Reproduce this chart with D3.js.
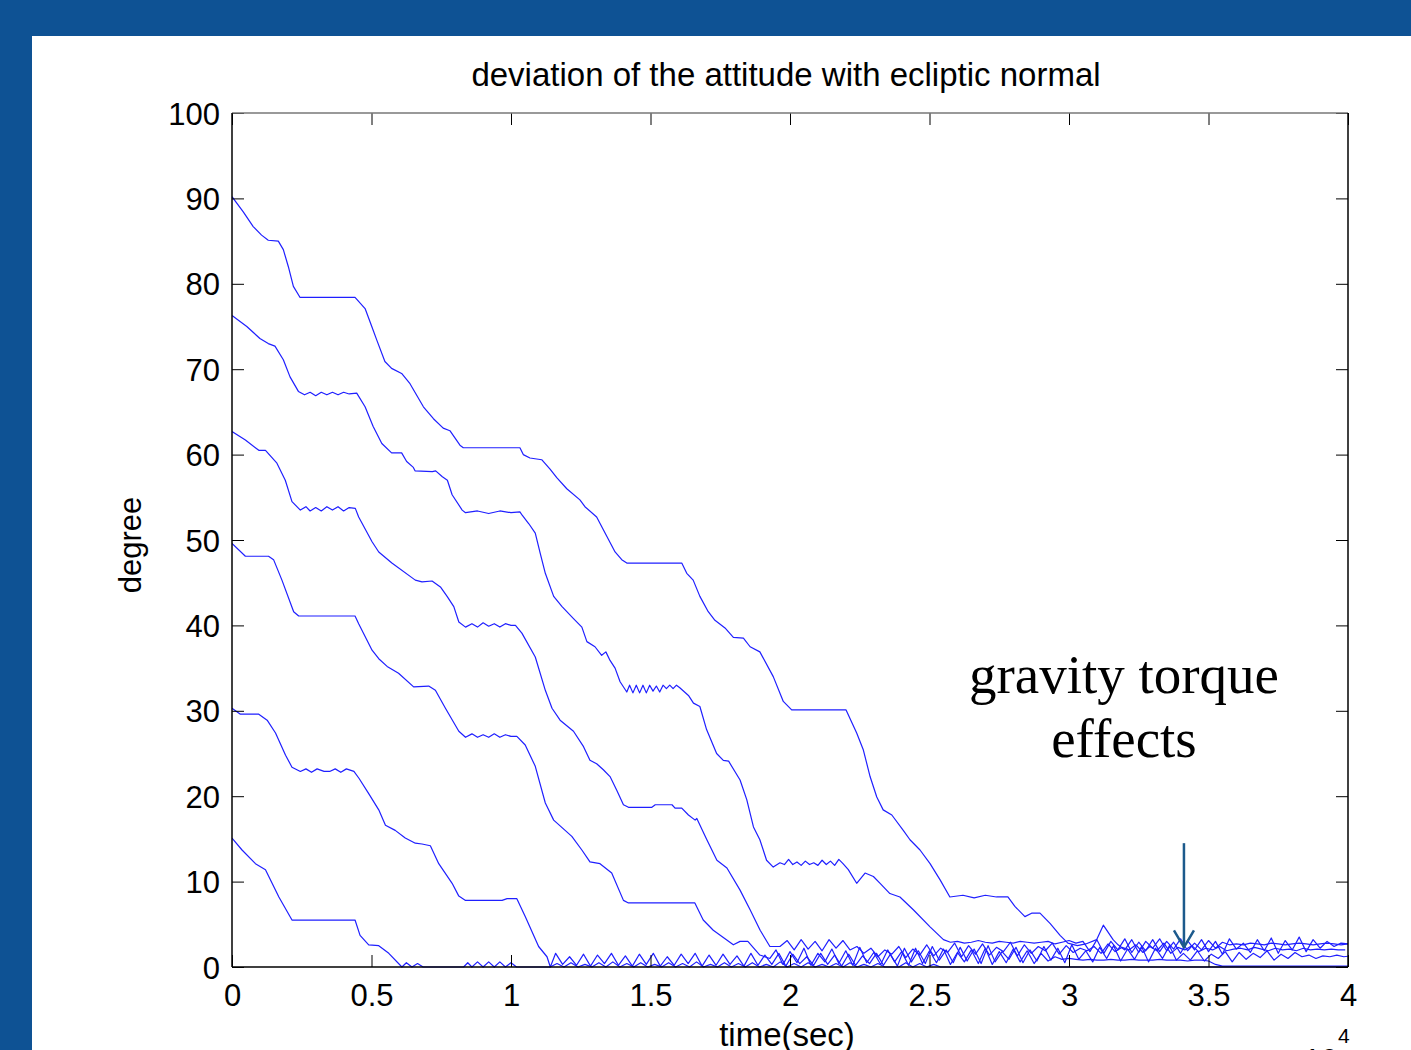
<!DOCTYPE html>
<html>
<head>
<meta charset="utf-8">
<script src="https://cdn.jsdelivr.net/npm/d3@7"></script>
<style>
  body { margin: 0; padding: 0; background: #0e5294; }
  svg { display: block; }
</style>
</head>
<body>
<div id="chart"></div>
<script>
// Axis ticks and labels
var xTicks = [0, 0.5, 1, 1.5, 2, 2.5, 3, 3.5, 4];
var xTickLabels = ["0", "0.5", "1", "1.5", "2", "2.5", "3", "3.5", "4"];
var yTicks = [0, 10, 20, 30, 40, 50, 60, 70, 80, 90, 100];

// Each run: [time (x10^4 sec), deviation (deg)]
var lineA = [[0,90.2],[0.041,88.4],[0.076,86.7],[0.106,85.7],[0.130,85.1],[0.166,85],[0.184,84],[0.202,82],[0.220,79.7],[0.244,78.4],[0.441,78.4],[0.477,77.1],[0.501,75],[0.519,73.4],[0.548,70.9],[0.572,70.1],[0.608,69.5],[0.638,68.3],[0.686,65.6],[0.722,64.2],[0.757,63.1],[0.781,62.8],[0.817,61.1],[0.829,60.8],[1.032,60.8],[1.044,60],[1.068,59.6],[1.110,59.4],[1.140,58.3],[1.164,57.3],[1.200,56],[1.247,54.7],[1.265,53.9],[1.307,52.7],[1.331,51.2],[1.373,48.6],[1.397,47.7],[1.415,47.3],[1.612,47.3],[1.630,46.1],[1.653,45.3],[1.677,43.4],[1.707,41.6],[1.731,40.6],[1.767,39.7],[1.797,38.6],[1.833,38.5],[1.857,37.5],[1.892,36.9],[1.940,34],[1.976,31.1],[2.006,30.1],[2.201,30.1],[2.215,29.1],[2.239,27.4],[2.263,25.4],[2.287,22.3],[2.311,19.9],[2.334,18.4],[2.365,17.8],[2.406,16],[2.430,14.9],[2.466,13.7],[2.502,12.1],[2.538,10.2],[2.573,8.2],[2.62,8.4],[2.66,8.1],[2.70,8.4],[2.74,8.2],[2.781,8.2],[2.806,7.1],[2.842,5.9],[2.866,6.3],[2.896,6.3],[2.932,5.1],[2.968,3.7],[2.996,2.8],[3.03,2.5],[3.06,2.7],[3.099,3.2],[3.123,4.9],[3.158,3.2],[3.176,2.6]];

var lineB = [[0,76.3],[0.053,75],[0.1,73.6],[0.130,73],[0.154,72.7],[0.184,71.1],[0.208,69.1],[0.238,67.4],[0.26,67.0],[0.28,67.3],[0.30,66.9],[0.32,67.3],[0.34,67.0],[0.36,67.3],[0.38,67.0],[0.40,67.3],[0.42,67.1],[0.447,67.2],[0.477,65.6],[0.506,63.3],[0.537,61.3],[0.572,60.2],[0.608,60.2],[0.626,59.2],[0.650,58.5],[0.656,58.1],[0.718,58],[0.730,58.1],[0.754,57.4],[0.772,57],[0.789,55.3],[0.825,53.5],[0.837,53.2],[0.88,53.4],[0.92,53.1],[0.96,53.4],[1.0,53.2],[1.032,53.3],[1.040,52.9],[1.064,51.9],[1.087,50.8],[1.105,48.4],[1.123,46.1],[1.153,43.4],[1.183,42.2],[1.224,40.8],[1.254,39.8],[1.272,38.1],[1.301,37.5],[1.325,36.5],[1.34,36.9],[1.355,35.9],[1.373,35],[1.391,33.4],[1.415,32.2],[1.425,33.0],[1.437,32.1],[1.449,33.0],[1.461,32.1],[1.473,33.0],[1.485,32.1],[1.497,33.0],[1.509,32.3],[1.521,32.9],[1.533,32.2],[1.545,33.0],[1.557,32.6],[1.569,33.0],[1.581,32.6],[1.593,33.0],[1.605,32.7],[1.636,31.8],[1.654,30.9],[1.677,30.5],[1.701,27.8],[1.737,25],[1.761,24.2],[1.78,24.1],[1.821,21.9],[1.845,19.6],[1.869,16.4],[1.892,14.9],[1.916,12.5],[1.940,11.7],[1.964,12.2],[1.98,12.0],[1.995,12.6],[2.01,12.0],[2.025,12.3],[2.04,11.9],[2.055,12.4],[2.07,12.0],[2.085,12.2],[2.10,11.9],[2.115,12.5],[2.13,12.0],[2.145,12.4],[2.16,11.9],[2.175,12.6],[2.19,12.1],[2.209,11.4],[2.239,9.8],[2.269,11],[2.299,10.6],[2.323,9.8],[2.358,8.6],[2.394,8.2],[2.442,6.7],[2.502,4.7],[2.550,3.2]];

var lineC = [[0,62.7],[0.048,61.7],[0.096,60.5],[0.120,60.5],[0.161,59],[0.191,57],[0.215,54.5],[0.245,53.5],[0.265,53.9],[0.28,53.4],[0.30,53.8],[0.32,53.4],[0.34,53.9],[0.36,53.5],[0.38,53.9],[0.40,53.4],[0.42,53.8],[0.442,53.7],[0.454,52.7],[0.502,49.8],[0.526,48.6],[0.573,47.3],[0.657,45.3],[0.681,45.1],[0.717,45.2],[0.747,44.5],[0.771,43.4],[0.795,42.2],[0.813,40.4],[0.837,39.8],[0.86,40.2],[0.88,39.8],[0.90,40.3],[0.92,39.9],[0.94,40.2],[0.96,39.8],[0.98,40.2],[1.0,40.0],[1.016,40],[1.039,39.1],[1.087,36.3],[1.123,32.4],[1.147,30.3],[1.176,28.9],[1.224,27.6],[1.260,25.8],[1.283,24.2],[1.307,23.8],[1.331,23.1],[1.355,22.3],[1.379,20.7],[1.403,19],[1.421,18.7],[1.505,18.7],[1.517,19],[1.577,19],[1.588,18.6],[1.612,18.6],[1.636,17.8],[1.660,17.2],[1.666,17.4],[1.702,14.9],[1.738,12.5],[1.774,11.6],[1.821,9],[1.857,6.7],[1.893,4.3],[1.928,2.4],[1.964,2.4]];

var lineD = [[0,49.6],[0.048,48.1],[0.131,48.1],[0.149,47.7],[0.179,45.3],[0.221,41.6],[0.239,41.1],[0.441,41.1],[0.454,40.2],[0.502,37.1],[0.526,36.1],[0.556,35.2],[0.597,34.4],[0.651,32.8],[0.705,32.9],[0.729,32.4],[0.765,30.3],[0.813,27.6],[0.837,26.9],[0.86,27.3],[0.88,26.9],[0.90,27.2],[0.92,26.9],[0.94,27.3],[0.96,26.9],[0.98,27.2],[1.0,27.0],[1.021,27],[1.051,26],[1.087,23.5],[1.123,19.2],[1.153,17.2],[1.194,16],[1.218,15.3],[1.254,13.7],[1.283,12.3],[1.319,12.1],[1.361,11],[1.403,7.8],[1.421,7.5],[1.659,7.5],[1.689,5.5],[1.725,4.3],[1.797,2.6],[1.821,3],[1.849,3],[1.892,1.4],[1.928,1]];

var lineE = [[0,30.3],[0.030,29.6],[0.096,29.6],[0.126,28.9],[0.156,27.4],[0.192,24.8],[0.215,23.4],[0.245,22.9],[0.265,23.2],[0.285,22.8],[0.305,23.2],[0.33,22.9],[0.35,22.9],[0.37,23.2],[0.39,22.8],[0.41,23.2],[0.437,22.9],[0.455,22.1],[0.490,20.3],[0.526,18.4],[0.550,16.6],[0.585,16],[0.621,15.1],[0.657,14.5],[0.681,14.4],[0.711,14.2],[0.741,12.1],[0.789,9.8],[0.813,8.3],[0.837,7.8],[0.968,7.8],[0.986,8],[1.021,8],[1.051,5.9],[1.099,2.4],[1.129,1.2],[1.141,0]];

var lineF = [[0,15.1],[0.036,13.7],[0.084,12.1],[0.120,11.4],[0.168,8.2],[0.215,5.5],[0.441,5.5],[0.459,3.7],[0.490,2.6],[0.526,2.5],[0.562,1.6],[0.609,0],[0.625,0.5],[0.645,0],[0.665,0.4],[0.685,0],[0.83,0],[0.845,0.5],[0.86,0],[0.88,0.6],[0.90,0],[0.92,0.6],[0.94,0],[0.96,0.6],[0.98,0],[1.0,0.5],[1.02,0]];

// Steady-state jitter once each run has settled, sampled every 0.025 x10^4 sec
var tailStep = 0.025;
var tailA = [2.0,3.2,1.7,3.0,2.2,3.3,1.9,2.9,1.6,3.1, 2.0,3.2,1.8,3.0,1.5,3.3,2.1,2.8,1.7,3.2, 1.9,3.4,1.6,3.1,2.0,3.5,1.8,3.2,2.2,3.0,2.4,2.8,2.7];
var tailB = [2.9,3.0,2.8,2.9,3.1,2.9,2.8,3.0,2.9,2.8, 3.0,2.9,2.8,2.9,3.0,2.7,2.9,3.1,2.8,3.0, 1.8,3.2,1.6,3.0,2.0,3.3,1.7,2.9,1.9,3.2, 1.8,3.0,2.1,3.3,1.9,2.8,2.0,3.1,2.2,2.9, 2.6,2.7,2.6,2.8,2.7,2.6,2.8,2.7,2.6,2.7, 2.8,2.7,2.6,2.7,2.8,2.7,2.6,2.7];
var tailC = [3.1,2.0,3.2,2.1,3.0,1.9,3.2,2.2,3.1,2.0, 2.4,1.6,2.2,1.2,2.0,1.5,2.4,1.1,2.1,1.4, 2.6,1.3,2.2,1.7,2.8,1.2,2.5,1.5,2.7,1.4, 2.3,1.8,2.9,1.3,2.6,1.6,2.4,1.9,2.8,1.5, 2.5,1.7,2.2,1.9,2.4,1.6,2.7,1.8,2.3,2.0, 2.6,1.7,2.4,1.9,2.8,1.6,2.3,2.0,2.5,1.8, 2.2,2.0,2.4,1.9,2.1,2.2,2.0,2.3,2.1,1.9, 2.2,2.0,2.1,1.9,2.2,2.0,2.1,2.0,2.1,2.0,2.0];
var tailD = [2.0,0.3,1.8,0.5,2.2,0.2,1.6,0.6,2.1,0.4,1.9,0.2,2.3,0.5,1.7,0.3,2.0,0.6,1.8,0.2,2.2,0.4,1.9,0.5,2.1,0.3,1.7,0.6,2.0,0.4,2.2,0.3,1.8,0.5,2.1,0.6,1.9,0.4,1.6,0.7,1.2,0.9,1.0, 0.9,0.8,0.9,0.8,0.8,0.9,0.8,0.8,0.9,0.8,0.8,0.8,0.9,0.8,0.8,0.8,0.7,0.8,0.8,0.7, 0.3,0.1,0.1,0.1,0.1,0.1,0.1,0.1,0.1,0.1,0.1,0.1,0.1,0.1,0.1,0.1,0.1,0.1,0.1,0.1];
var tailE = [1.6,0.3,1.2,0.2,1.5,0.1,1.4,0.4,1.6,0.2,1.3,0.1,1.5,0.3,1.6,0.1,1.2,0.2,1.5,0.4,1.6,0.1,1.4,0.2,1.5,0.3,1.3,0.1,1.6,0.2, 1.4,0.3,1.6,0.1,1.5,0.4,1.2,0.2,1.6,0.3,1.4,0.1,1.5,0.2,1.3,0.4,1.6,0.2,1.5,0.1, 2.2,0.6,1.9,0.4,2.4,0.8,2.0,0.5,2.3,0.7,2.1,0.4,2.5,0.6,1.8,0.9,2.3,0.5,2.0,0.7, 2.4,0.8,2.2,0.5,2.6,0.9,1.9,0.6,2.3,1.0,2.5,0.7,2.1,0.9,2.4,0.6,2.2,1.0,2.5,0.8, 1.6,0.8,1.9,0.7,1.5,1.0,1.8,0.6,1.7,0.9,1.6,1.1,1.9,0.8,1.5,1.0,1.7,1.2,1.4,1.0,1.3,1.2,1.4,1.2,1.3];
var tailF = [0,0,0,0,0,0.4,0,0.5,0,0.3, 0,0.5,0,0.6,0,0.4,0,0.5,0,0.3, 0,0.5,0,0.4,0,0.6,0,0.3,0,0.5, 0,0.4,0,0.5,0,0.3,0,0.6,0,0.4, 0,0.5,0,0.3,0,0.4,0,0.5,0,0.3, 0,0.4,0,0,0,0.5,0,0.4,0,0.3, 0,0,0];
var tailStart = [3.2, 2.575, 1.99, 1.95, 1.16, 1.04];

// Annotation (data units)
var noteLines = ["gravity torque", "effects"];
var noteX = 3.197;
var noteY = [32.1, 24.6];
var arrowX = 3.412;
var arrowFrom = 14.5;
var arrowTo = 2.3;

var svgWidth = 1411;
var svgHeight = 1050;
var plot = { left: 232, right: 1348, top: 113, bottom: 967 };

var svg = d3.select("#chart")
  .append("svg")
  .attr("width", svgWidth)
  .attr("height", svgHeight);

// slide frame
svg.append("rect").attr("width", svgWidth).attr("height", svgHeight).attr("fill", "#0e5294");
svg.append("rect").attr("x", 32).attr("y", 36).attr("width", svgWidth - 32).attr("height", svgHeight - 36).attr("fill", "#ffffff");

var x = d3.scaleLinear().domain([0, 4]).range([plot.left, plot.right]);
var y = d3.scaleLinear().domain([0, 100]).range([plot.bottom, plot.top]);

svg.append("clipPath").attr("id", "clip")
  .append("rect")
  .attr("x", plot.left).attr("y", plot.top - 2)
  .attr("width", plot.right - plot.left).attr("height", plot.bottom - plot.top + 3);

// build the runs
var runs = [lineA, lineB, lineC, lineD, lineE, lineF];
var tails = [tailA, tailB, tailC, tailD, tailE, tailF];
var series = runs.map(function(run, i) {
  var pts = run.slice();
  tails[i].forEach(function(v, j) {
    pts.push([tailStart[i] + j * tailStep, v]);
  });
  if (i === 5) pts.push([4, 0]);
  return pts;
});

var line = d3.line()
  .x(function(d) { return x(d[0]); })
  .y(function(d) { return y(d[1]); });

svg.append("g")
  .attr("clip-path", "url(#clip)")
  .selectAll("path")
  .data(series)
  .enter()
  .append("path")
  .attr("d", line)
  .attr("fill", "none")
  .attr("stroke", "#1f1fff")
  .attr("stroke-width", 1.2)
  .attr("stroke-linejoin", "round");

var font = "'Liberation Sans', Arial, Helvetica, sans-serif";

// bottom axis with labels, ticks pointing in
var bottomAxis = d3.axisBottom(x)
  .tickValues(xTicks)
  .tickFormat(function(d, i) { return xTickLabels[i]; })
  .tickSize(-12)
  .tickSizeOuter(0);

var gx = svg.append("g")
  .attr("transform", "translate(0," + plot.bottom + ")")
  .call(bottomAxis);
gx.select(".domain").remove();
gx.selectAll("text")
  .attr("y", 39)
  .attr("dy", null)
  .style("font-family", font)
  .style("font-size", "31px")
  .attr("fill", "#000");

var leftAxis = d3.axisLeft(y)
  .tickValues(yTicks)
  .tickSize(-12)
  .tickSizeOuter(0)
  .tickPadding(12);

var gy = svg.append("g")
  .attr("transform", "translate(" + plot.left + ",0)")
  .call(leftAxis);
gy.select(".domain").remove();
gy.selectAll("text")
  .attr("dy", "0.36em")
  .style("font-family", font)
  .style("font-size", "31px")
  .attr("fill", "#000");

// top and right ticks
var gt = svg.append("g")
  .attr("transform", "translate(0," + plot.top + ")")
  .call(d3.axisBottom(x).tickValues(xTicks).tickFormat("").tickSize(12).tickSizeOuter(0));
gt.select(".domain").remove();

var gr = svg.append("g")
  .attr("transform", "translate(" + plot.right + ",0)")
  .call(d3.axisLeft(y).tickValues(yTicks).tickFormat("").tickSize(12).tickSizeOuter(0));
gr.select(".domain").remove();

// box
svg.append("line").attr("x1", plot.left).attr("x2", plot.right).attr("y1", plot.top).attr("y2", plot.top).attr("stroke", "#777").attr("stroke-width", 1.5);
svg.append("line").attr("x1", plot.right).attr("x2", plot.right).attr("y1", plot.top).attr("y2", plot.bottom).attr("stroke", "#000").attr("stroke-width", 1.5);
svg.append("line").attr("x1", plot.left).attr("x2", plot.left).attr("y1", plot.top).attr("y2", plot.bottom).attr("stroke", "#000").attr("stroke-width", 1.5);
svg.append("line").attr("x1", plot.left).attr("x2", plot.right).attr("y1", plot.bottom).attr("y2", plot.bottom).attr("stroke", "#000").attr("stroke-width", 1.5);

// titles
svg.append("text")
  .attr("x", 786)
  .attr("y", 86)
  .attr("text-anchor", "middle")
  .style("font-family", font)
  .style("font-size", "33px")
  .text("deviation of the attitude with ecliptic normal");

svg.append("text")
  .attr("transform", "translate(141,545) rotate(-90)")
  .attr("text-anchor", "middle")
  .style("font-family", font)
  .style("font-size", "31px")
  .text("degree");

svg.append("text")
  .attr("x", 787)
  .attr("y", 1046)
  .attr("text-anchor", "middle")
  .style("font-family", font)
  .style("font-size", "33px")
  .text("time(sec)");

svg.append("text")
  .attr("x", 1338)
  .attr("y", 1071)
  .attr("text-anchor", "end")
  .style("font-family", font)
  .style("font-size", "31px")
  .text("\u00d7 10");

svg.append("text")
  .attr("x", 1338)
  .attr("y", 1043)
  .style("font-family", font)
  .style("font-size", "21px")
  .text("4");

// annotation
svg.selectAll(".note")
  .data(noteLines)
  .enter()
  .append("text")
  .attr("class", "note")
  .attr("x", x(noteX))
  .attr("y", function(d, i) { return y(noteY[i]); })
  .attr("text-anchor", "middle")
  .style("font-family", "'Liberation Serif', 'Times New Roman', serif")
  .style("font-size", "55px")
  .text(function(d) { return d; });

var arrowColor = "#1c5a8c";
svg.append("line")
  .attr("x1", x(arrowX)).attr("x2", x(arrowX))
  .attr("y1", y(arrowFrom)).attr("y2", y(arrowTo))
  .attr("stroke", arrowColor).attr("stroke-width", 2.5);
svg.append("path")
  .attr("d", "M" + (x(arrowX) - 10) + "," + (y(arrowTo) - 17) + "L" + x(arrowX) + "," + y(arrowTo) + "L" + (x(arrowX) + 10) + "," + (y(arrowTo) - 17))
  .attr("fill", "none")
  .attr("stroke", arrowColor)
  .attr("stroke-width", 2.5);
</script>
</body>
</html>
